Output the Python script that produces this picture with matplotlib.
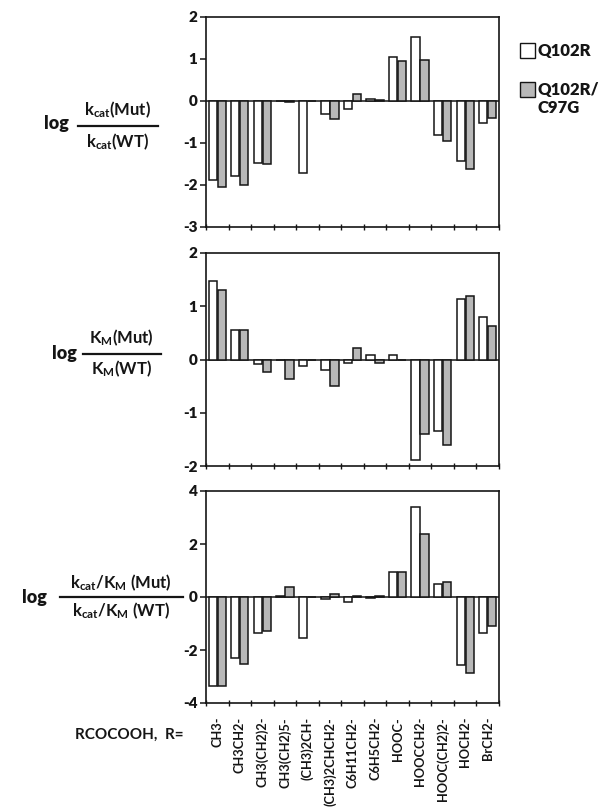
import matplotlib
matplotlib.use("Agg")
import matplotlib.pyplot as plt
from matplotlib.lines import Line2D
from matplotlib.patches import Rectangle
import numpy as np

plt.rcParams['font.family'] = ['Lato', 'DejaVu Sans']
plt.rcParams['font.weight'] = 'bold'
plt.rcParams['mathtext.fontset'] = 'custom'
plt.rcParams['mathtext.rm'] = 'Lato:bold'
plt.rcParams['mathtext.it'] = 'Lato:bold'
plt.rcParams['mathtext.bf'] = 'Lato:bold'
plt.rcParams['mathtext.default'] = 'rm'

categories = ['CH3-', 'CH3CH2-', 'CH3(CH2)2-', 'CH3(CH2)5-', '(CH3)2CH-',
              '(CH3)2CHCH2-', 'C6H11CH2-', 'C6H5CH2-', 'HOOC-', 'HOOCCH2-',
              'HOOC(CH2)2-', 'HOCH2-', 'BrCH2-']
series_names = ['Q102R', 'Q102R/\nC97G']

kcat_q102r = [-1.89, -1.79, -1.47, 0.01, -1.71, -0.30, -0.18, 0.04, 1.05, 1.53, -0.80, -1.42, -0.53]
kcat_c97g = [-2.04, -1.99, -1.50, -0.02, 0.0, -0.42, 0.16, 0.02, 0.96, 0.98, -0.96, -1.62, -0.41]

km_q102r = [1.47, 0.55, -0.09, 0.0, -0.12, -0.20, -0.06, 0.08, 0.08, -1.89, -1.35, 1.14, 0.80]
km_c97g = [1.30, 0.55, -0.23, -0.36, 0.0, -0.49, 0.21, -0.06, 0.0, -1.40, -1.60, 1.19, 0.62]

eff_q102r = [-3.35, -2.29, -1.37, 0.02, -1.54, -0.09, -0.17, -0.03, 0.94, 3.38, 0.50, -2.58, -1.37]
eff_c97g = [-3.35, -2.54, -1.30, 0.37, 0.0, 0.10, 0.02, 0.05, 0.94, 2.38, 0.55, -2.85, -1.10]

ylims = [(-3, 2), (-2, 2), (-4, 4)]
yticks = [[-3, -2, -1, 0, 1, 2], [-2, -1, 0, 1, 2], [-4, -2, 0, 2, 4]]

W, H = 609, 807
fig = plt.figure(figsize=(W / 100, H / 100), dpi=100)

def fx(x):
    return x / W

def fy(y):
    return 1 - y / H

panel_px = [(17, 227), (253, 466), (491, 703)]
left_px, right_px = 206, 499
white = '#ffffff'
gray = '#b8b8b8'
ink = '#151515'

data = [(kcat_q102r, kcat_c97g), (km_q102r, km_c97g), (eff_q102r, eff_c97g)]
x = np.arange(len(categories))
bw = 0.37
axes = []
for i, ((top, bot), (a, b)) in enumerate(zip(panel_px, data)):
    ax = fig.add_axes([fx(left_px), fy(bot), fx(right_px) - fx(left_px), (bot - top) / H])
    ax.bar(x - 0.2, a, width=bw, color=white, edgecolor=ink, linewidth=1.1, zorder=3)
    ax.bar(x + 0.2, b, width=bw, color=gray, edgecolor=ink, linewidth=1.1, zorder=3)
    ax.axhline(0, color=ink, linewidth=1.1, zorder=2)
    ax.set_xlim(-0.5, len(categories) - 0.5)
    ax.set_ylim(*ylims[i])
    ax.set_yticks(yticks[i])
    ax.set_yticklabels([str(t) for t in yticks[i]], fontsize=11, fontweight='heavy', color=ink)
    ax.tick_params(axis='y', direction='out', length=4, width=1.1, pad=2, colors=ink)
    ax.set_xticks(np.arange(-0.5, len(categories)), minor=True)
    ax.tick_params(axis='x', which='minor', direction='inout', length=5, width=1.0, colors=ink)
    ax.set_xticks(x)
    if i == 2:
        ax.set_xticklabels(categories, rotation=90, fontsize=9.2, fontweight='bold', color=ink)
        ax.tick_params(axis='x', which='major', length=0, pad=10)
    else:
        ax.set_xticklabels([])
        ax.tick_params(axis='x', which='major', length=0)
    for s in ax.spines.values():
        s.set_linewidth(1.2)
        s.set_color(ink)
    axes.append(ax)

def frac_label(log_xy, num_xy, den_xy, line_x, line_y, num, den, size=12):
    fig.text(fx(log_xy[0]), fy(log_xy[1]), 'log', ha='center', va='center', fontsize=size + 1, fontweight='heavy', color=ink)
    fig.text(fx(num_xy[0]), fy(num_xy[1]), num, ha='center', va='center', fontsize=size, fontweight='bold', color=ink)
    fig.text(fx(den_xy[0]), fy(den_xy[1]), den, ha='center', va='center', fontsize=size, fontweight='bold', color=ink)
    fig.add_artist(Line2D([fx(line_x[0]), fx(line_x[1])], [fy(line_y), fy(line_y)], color=ink, linewidth=1.6, transform=fig.transFigure))

frac_label((56, 124), (118, 110), (118, 142), (78, 158), 126,
           r'k$_{cat}$(Mut)', r'k$_{cat}$(WT)')
frac_label((64, 353), (121, 338), (121, 369), (83, 161), 354,
           r'K$_{M}$(Mut)', r'K$_{M}$(WT)')
frac_label((34, 597), (121, 583), (121, 611), (60, 183), 597,
           r'k$_{cat}$/K$_{M}$ (Mut)', r'k$_{cat}$/K$_{M}$ (WT)')

fig.text(fx(75), fy(735), 'RCOCOOH,  R=', ha='left', va='center', fontsize=11, fontweight='bold', color=ink)

# legend
for (sy, col, name, ty) in [(43, white, series_names[0], 51), (82, gray, series_names[1], 99)]:
    fig.add_artist(Rectangle((fx(520), fy(sy + 15)), 15 / W, 15 / H, facecolor=col, edgecolor=ink,
                             linewidth=1.0, transform=fig.transFigure))
    fig.text(fx(537), fy(ty), name, ha='left', va='center', fontsize=12, fontweight='heavy', color=ink,
             linespacing=1.15)

fig.savefig('out.png', dpi=100, facecolor='white')
